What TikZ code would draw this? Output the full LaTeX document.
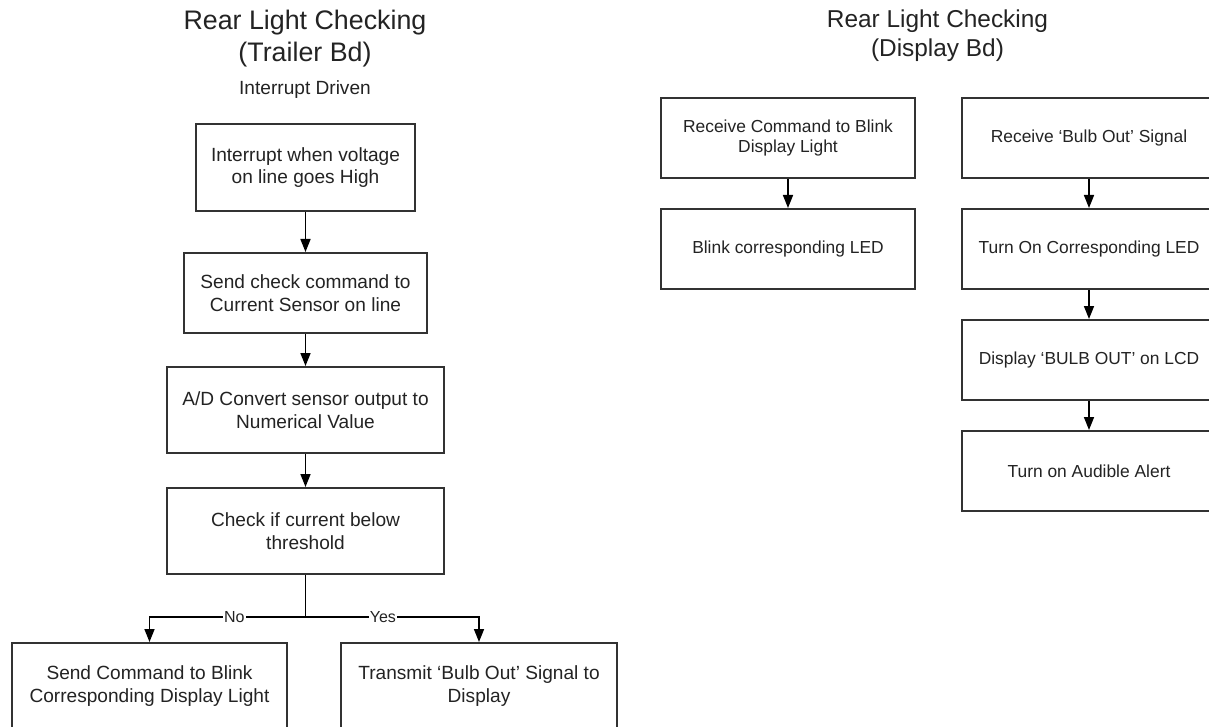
\documentclass[tikz,border=0pt]{standalone}
\usepackage{fontspec}
\setmainfont{Liberation Sans}
\usetikzlibrary{arrows.meta}
\definecolor{linecol}{RGB}{50,50,50}
\definecolor{txtcol}{RGB}{35,35,35}
\tikzset{
  boxL/.style={draw=linecol, line width=1pt, rectangle, inner sep=0pt, align=center,
    text=txtcol, font=\fontsize{9.55}{11.2}\selectfont},
  boxR/.style={draw=linecol, line width=1pt, rectangle, inner sep=0pt, align=center,
    text=txtcol, font=\fontsize{8.7}{10}\selectfont,
    minimum width=127pt, minimum height=40pt},
  conn/.style={draw=black, line width=0.8pt, -{Triangle[length=6.5pt,width=5pt]}},
  plainconn/.style={draw=black, line width=0.8pt},
  lbl/.style={fill=white, inner sep=0.6pt, text=txtcol, font=\fontsize{8}{9}\selectfont},
  titleL/.style={anchor=base, inner sep=0pt, text=txtcol, font=\fontsize{13.4}{16}\selectfont},
  titleR/.style={anchor=base, inner sep=0pt, text=txtcol, font=\fontsize{12.2}{14.5}\selectfont},
  subt/.style={anchor=base, inner sep=0pt, text=txtcol, font=\fontsize{9.55}{11.2}\selectfont}
}
\begin{document}
\begin{tikzpicture}[x=0.5pt,y=-0.5pt]
\clip (0,0) rectangle (1209,727);
\fill[white] (0,0) rectangle (1209,727);

% Left titles
\node[titleL] (tl1) at (305,29.5) {Rear Light Checking};
\node[titleL] (tl2) at (305,62) {(Trailer Bd)};
\node[subt] (tl3) at (305,95) {Interrupt Driven};

% Left flow
\node[boxL, minimum width=109.5pt, minimum height=43.5pt] (b1) at (305.5,167.5) {Interrupt when voltage\\on line goes High};
\node[boxL, minimum width=121.5pt, minimum height=40pt] (b2) at (305.5,293) {Send check command to\\Current Sensor on line};
\node[boxL, minimum width=138.5pt, minimum height=43pt] (b3) at (305.5,410) {A/D Convert sensor output to\\Numerical Value};
\node[boxL, minimum width=138.5pt, minimum height=43pt] (b4) at (305.5,531) {Check if current below\\threshold};
\node[boxL, minimum width=137.5pt, minimum height=43pt] (b5) at (149.5,686) {Send Command to Blink\\Corresponding Display Light};
\node[boxL, minimum width=138pt, minimum height=43pt] (b6) at (479,686) {Transmit `Bulb Out' Signal to\\Display};

\coordinate (j) at (305.5,617);
\draw[conn] (b1) -- (b2);
\draw[conn] (b2) -- (b3);
\draw[conn] (b3) -- (b4);
\draw[plainconn] (b4.south) -- (j);
\draw[conn] (j) -| node[lbl, pos=0.228] (no) {No} (b5.north);
\draw[conn] (j) -| node[lbl, pos=0.223] (yes) {Yes} (b6.north);

% Right titles
\node[titleR] (tr1) at (937.5,28) {Rear Light Checking};
\node[titleR] (tr2) at (937.5,57) {(Display Bd)};

% Right flows
\node[boxR] (r1) at (788,138) {Receive Command to Blink\\Display Light};
\node[boxR] (r2) at (788,249) {Blink corresponding LED};
\draw[conn] (r1) -- (r2);

\node[boxR] (s1) at (1089,138) {Receive `Bulb Out' Signal};
\node[boxR] (s2) at (1089,249) {Turn On Corresponding LED};
\node[boxR] (s3) at (1089,360) {Display `BULB OUT' on LCD};
\node[boxR] (s4) at (1089,471) {Turn on Audible Alert};
\draw[conn] (s1) -- (s2);
\draw[conn] (s2) -- (s3);
\draw[conn] (s3) -- (s4);
\end{tikzpicture}
\end{document}
